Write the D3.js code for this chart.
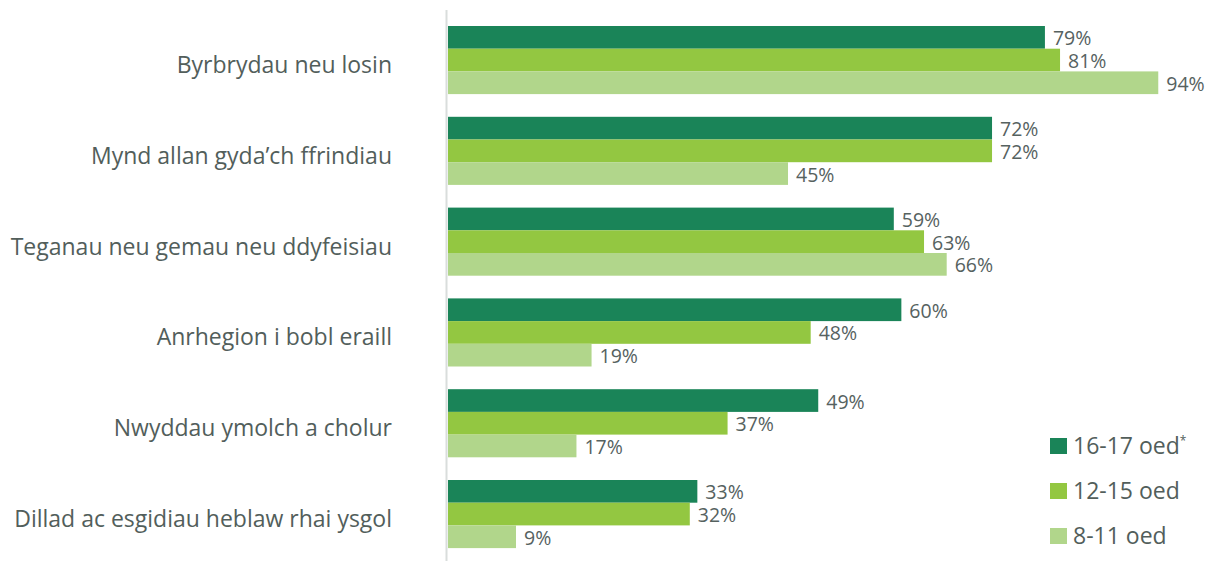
<!DOCTYPE html>
<html>
<head>
<meta charset="utf-8">
<script src="https://cdn.jsdelivr.net/npm/d3@7"></script>
<style>
  body { margin: 0; background: #fff; }
  svg { font-family: "Open Sans", "Lato", sans-serif; font-weight: 400; }
</style>
</head>
<body>
<div id="chart"></div>
<script>
// categories and series
var categories = [
  "Byrbrydau neu losin",
  "Mynd allan gyda\u2019ch ffrindiau",
  "Teganau neu gemau neu ddyfeisiau",
  "Anrhegion i bobl eraill",
  "Nwyddau ymolch a cholur",
  "Dillad ac esgidiau heblaw rhai ysgol"
];
var seriesNames = ["16-17 oed", "12-15 oed", "8-11 oed"];
var age1617 = [79, 72, 59, 60, 49, 33];
var age1215 = [81, 72, 63, 48, 37, 32];
var age811 = [94, 45, 66, 19, 17, 9];
var colors = ["#1a8458", "#93c741", "#b1d68b"];

var width = 1211, height = 561;
var series = [age1617, age1215, age811];

var svg = d3.select("#chart").append("svg")
    .attr("width", width)
    .attr("height", height);

var x = d3.scaleLinear().domain([0, 100]).range([448, 1203.6]);

var y = d3.scaleBand()
    .domain(categories)
    .range([14.65, 559.45])
    .paddingInner(0.25)
    .paddingOuter(0.125);

var ySub = d3.scaleBand()
    .domain(d3.range(seriesNames.length))
    .range([0, y.bandwidth()]);

// flat list of bars
var bars = [];
categories.forEach(function (c, i) {
    series.forEach(function (s, j) {
        bars.push({cat: c, s: j, v: s[i]});
    });
});

svg.selectAll("rect.bar")
    .data(bars)
    .enter()
    .append("rect")
    .attr("class", "bar")
    .attr("x", x(0))
    .attr("y", function (d) { return y(d.cat) + ySub(d.s); })
    .attr("width", function (d) { return x(d.v) - x(0); })
    .attr("height", ySub.bandwidth())
    .attr("fill", function (d) { return colors[d.s]; });

svg.selectAll("text.val")
    .data(bars)
    .enter()
    .append("text")
    .attr("class", "val")
    .attr("x", function (d) { return x(d.v) + 8; })
    .attr("y", function (d) { return y(d.cat) + ySub(d.s) + ySub.bandwidth() / 2 + 8; })
    .attr("font-size", 19.5)
    .attr("fill", "#56625f")
    .text(function (d) { return d.v + "%"; });

// axis line
svg.append("line")
    .attr("x1", 446.5).attr("x2", 446.5)
    .attr("y1", 10).attr("y2", height)
    .attr("stroke", "#d9dddc")
    .attr("stroke-width", 2);

// category labels
svg.selectAll("text.cat")
    .data(categories)
    .enter()
    .append("text")
    .attr("class", "cat")
    .attr("x", 392)
    .attr("y", function (d) { return y(d) + y.bandwidth() / 2 + 13; })
    .attr("text-anchor", "end")
    .attr("font-size", 23)
    .attr("fill", "#525e5b")
    .text(function (d) { return d; });

// legend
var legend = svg.selectAll("g.legend")
    .data(seriesNames)
    .enter()
    .append("g")
    .attr("class", "legend")
    .attr("transform", function (d, i) { return "translate(1050," + (438 + i * 45) + ")"; });

legend.append("rect")
    .attr("width", 17)
    .attr("height", 16)
    .attr("fill", function (d, i) { return colors[i]; });

var lt = legend.append("text")
    .attr("x", 23)
    .attr("y", 16)
    .attr("font-size", 23)
    .attr("fill", "#525e5b")
    .text(function (d) { return d; });

lt.filter(function (d, i) { return i === 0; })
    .append("tspan")
    .attr("dy", -9)
    .attr("font-size", 12)
    .text("*");
</script>
</body>
</html>
